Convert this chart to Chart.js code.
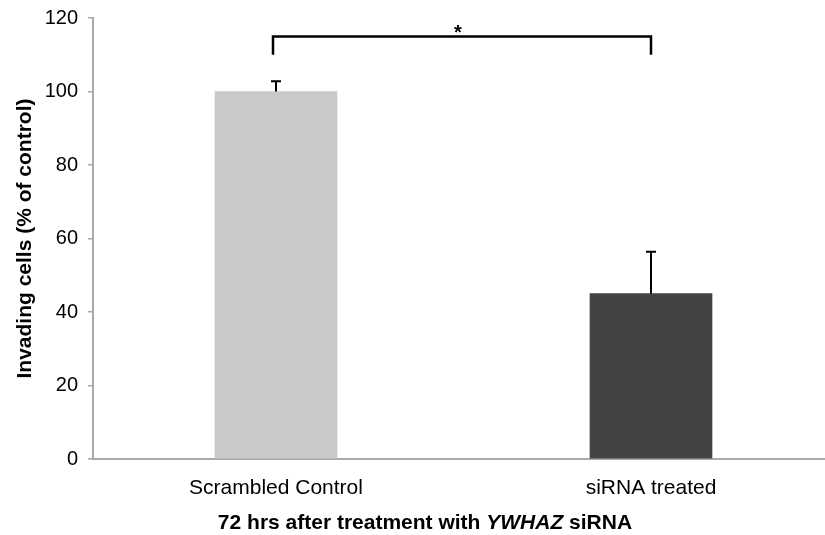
<!DOCTYPE html>
<html>
<head>
<meta charset="utf-8">
<script src="https://cdn.jsdelivr.net/npm/chart.js@4.4.1/dist/chart.umd.min.js"></script>
<style>
  body { margin: 0; background: #fff; }
  #wrap { position: relative; width: 825px; height: 535px; overflow: hidden; }
  #xtitle {
    position: absolute; left: 0; width: 850px; top: 509px;
    text-align: center; font: bold 21px "Liberation Sans", Arial, sans-serif;
    line-height: 25px; color: #000;
  }
</style>
</head>
<body>
<div id="wrap">
  <canvas id="invasionChart" width="825" height="535"></canvas>
  <div id="xtitle">72 hrs after treatment with <i>YWHAZ</i> siRNA</div>
</div>
<script>
// values
var categories = ["Scrambled Control", "siRNA treated"];
var invading = [100, 45];
var errors = [2.8, 11.4];
var barColors = ["#c9c9c9", "#434343"];
var yTicks = [0, 20, 40, 60, 80, 100, 120];
// significance bracket, in y-axis units
var bracketTop = 115;
var bracketFoot = 110;
var bracketLabel = "*";

var axisGray = "#a9a9a9";
var fontFamily = '"Liberation Sans", Arial, sans-serif';

// upper error bars + the significance bracket
var annotations = {
    id: "annotations",
    afterDatasetsDraw: function (chart) {
        var ctx = chart.ctx;
        var xs = chart.scales.x;
        var ys = chart.scales.y;
        ctx.save();
        ctx.strokeStyle = "#000";
        ctx.lineWidth = 2;
        for (var i = 0; i < invading.length; i++) {
            var x = xs.getPixelForValue(i);
            var yBase = ys.getPixelForValue(invading[i]);
            var yTop = ys.getPixelForValue(invading[i] + errors[i]);
            ctx.beginPath();
            ctx.moveTo(x, yBase);
            ctx.lineTo(x, yTop);
            ctx.moveTo(x - 5, yTop);
            ctx.lineTo(x + 5, yTop);
            ctx.stroke();
        }

        var x0 = xs.getPixelForValue(0) - 3;
        var x1 = xs.getPixelForValue(1);
        var yT = ys.getPixelForValue(bracketTop);
        var yF = ys.getPixelForValue(bracketFoot);
        ctx.lineWidth = 2.5;
        ctx.beginPath();
        ctx.moveTo(x0, yF);
        ctx.lineTo(x0, yT);
        ctx.lineTo(x1, yT);
        ctx.lineTo(x1, yF);
        ctx.stroke();

        ctx.fillStyle = "#000";
        ctx.font = "bold 20px " + fontFamily;
        ctx.textAlign = "center";
        ctx.textBaseline = "alphabetic";
        ctx.fillText(bracketLabel, (x0 + x1) / 2 - 4, yT + 3);
        ctx.restore();
    }
};

var ctx = document.getElementById("invasionChart");
var invasionChart = new Chart(ctx, {
    type: "bar",
    data: {
        datasets: [{
            data: invading.map(function (v, i) { return { x: i, y: v }; }),
            backgroundColor: barColors,
            borderWidth: 0,
            barThickness: 122
        }]
    },
    options: {
        responsive: false,
        animation: false,
        layout: { padding: { top: 18, right: 0, bottom: 0, left: 0 } },
        plugins: {
            legend: { display: false },
            tooltip: { enabled: false }
        },
        scales: {
            x: {
                type: "linear",
                offset: false,
                min: -0.488,
                max: 1.464,
                grid: { display: false, offset: false },
                border: { display: true, color: axisGray, width: 2 },
                afterBuildTicks: function (axis) {
                    axis.ticks = categories.map(function (c, i) { return { value: i }; });
                },
                afterFit: function (axis) {
                    axis.height = 76;
                    axis.paddingLeft = 0;
                    axis.paddingRight = 0;
                },
                ticks: {
                    autoSkip: false,
                    maxRotation: 0,
                    padding: 9,
                    color: "#000",
                    font: { family: fontFamily, size: 21 },
                    callback: function (value) { return categories[value]; }
                }
            },
            y: {
                min: 0,
                max: 120,
                grid: { drawOnChartArea: false, color: axisGray, tickLength: 5, lineWidth: 1.5 },
                border: { color: axisGray, width: 2 },
                afterBuildTicks: function (axis) {
                    axis.ticks = yTicks.map(function (v) { return { value: v }; });
                },
                afterFit: function (axis) {
                    axis.width = 93;
                    axis.paddingTop = 0;
                    axis.paddingBottom = 0;
                },
                ticks: {
                    padding: 10,
                    color: "#000",
                    font: { family: fontFamily, size: 20 }
                },
                title: {
                    display: true,
                    text: "Invading cells (% of control)",
                    color: "#000",
                    padding: { top: 13, bottom: 0 },
                    font: { family: fontFamily, size: 21, weight: "bold" }
                }
            }
        }
    },
    plugins: [annotations]
});
</script>
</body>
</html>
